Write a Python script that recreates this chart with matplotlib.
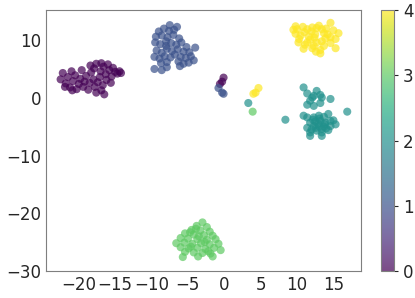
import matplotlib
matplotlib.use("Agg")
import matplotlib.pyplot as plt
import numpy as np

# ── 各类别的二维嵌入坐标 ─────────────────────────────────
c0_x = [-22.5, -22.2, -21.8, -21.5, -21.2, -21.0, -20.8, -20.5, -20.3, -20.0, -19.8, -19.6,
        -21.9, -20.9, -19.4, -19.2, -19.0, -18.7, -18.5, -18.3, -18.0, -17.8, -17.6, -17.4,
        -17.1, -16.9, -16.7, -16.5, -17.9, -18.4, -17.0, -16.6, -16.3, -16.0, -15.8, -15.5,
        -15.3, -15.0, -14.7, -14.4, -14.2, -16.2, -15.6, -16.9, -17.6,
        -0.1, -0.3, -0.6]
c0_y = [3.2, 4.3, 2.5, 3.6, 1.8, 4.6, 2.9, 3.9, 1.5, 2.4, 3.3, 4.8,
        1.9, 1.3, 1.9, 2.8, 3.8, 1.4, 2.6, 4.4, 3.2, 1.9, 0.9, 2.7,
        3.6, 1.3, 2.2, 0.6, 5.1, 5.6, 4.6, 5.4, 4.1, 5.8, 4.8, 3.7,
        5.2, 4.5, 4.2, 4.6, 4.3, 3.1, 2.6, 6.0, 5.9,
        3.5, 2.8, 2.4]

c1_x = [-9.0, -8.3, -7.6, -6.5, -9.4, -8.6, -7.8, -7.0, -6.2, -9.5, -8.8, -8.0, -7.3, -6.6,
        -5.9, -5.2, -4.0, -9.3, -8.6, -7.9, -7.2, -6.4, -5.6, -4.8, -9.6, -8.9, -8.2, -7.4,
        -6.8, -6.0, -5.3, -4.6, -4.2, -8.7, -7.9, -6.3, -5.6, -4.9, -9.6, -8.6, -7.9, -6.1,
        -8.0, -7.5, -6.9,
        -0.8, -0.3, -0.1]
c1_y = [11.5, 12.0, 11.6, 12.3, 10.6, 10.8, 10.5, 10.9, 10.3, 9.6, 9.3, 9.8, 9.5, 9.2,
        9.6, 8.8, 8.7, 8.2, 7.8, 8.5, 8.1, 8.4, 8.0, 7.9, 7.1, 6.8, 7.2, 7.0,
        7.5, 7.1, 6.9, 7.2, 6.5, 6.0, 6.2, 6.3, 5.9, 6.1, 5.0, 4.8, 5.3, 5.5,
        9.0, 12.6, 11.8,
        1.7, 0.9, 0.7]

c2_x = [10.9, 11.4, 12.7, 12.3, 13.2, 13.4, 12.1, 11.8, 11.4, 12.3, 13.2, 14.6,
        10.9, 11.4, 12.3, 13.0, 13.7, 14.3, 11.8, 12.5, 13.2, 13.9, 14.6, 15.0,
        11.4, 12.3, 13.0, 13.7, 14.6, 15.3, 11.8, 12.7, 13.4, 14.3, 11.8, 13.4,
        8.4, 16.9, 12.9, 13.4, 12.6, 13.8, 12.2, 14.0, 13.1, 12.0,
        3.3]
c2_y = [1.8, 0.75, 1.2, 0.35, 0.5, 0.05, 0.05, -0.5, -1.2, -1.4, -0.9, -0.2,
        -3.1, -3.4, -3.4, -3.1, -3.3, -2.8, -4.3, -4.1, -4.0, -4.3, -4.0, -3.9,
        -5.2, -4.9, -4.9, -5.0, -4.9, -4.6, -6.0, -5.7, -6.0, -5.6, -6.6, -6.6,
        -3.8, -2.4, -4.5, -5.4, -5.2, -4.6, -3.8, -5.3, -3.6, -5.5,
        -0.9]

c3_x = [-3.0, -3.8, -2.4, -4.5, -3.3, -2.0, -5.4, -4.2, -2.8, -1.6, -6.0, -5.0, -3.7, -2.4,
        -1.2, -6.6, -5.5, -4.4, -3.2, -2.0, -0.8, -6.0, -4.9, -3.7, -2.6, -1.4, -0.5, -5.4,
        -4.2, -3.0, -1.9, -5.7, -3.6, -1.6, -4.7, -3.5, -2.7, -4.6, -2.2, -3.9,
        3.9]
c3_y = [-21.6, -22.2, -22.4, -22.9, -23.0, -23.2, -23.5, -23.7, -23.8, -23.9, -24.3, -24.4,
        -24.5, -24.6, -24.5, -25.2, -25.1, -25.3, -25.2, -25.4, -25.3, -25.9, -26.1, -26.0,
        -26.2, -26.0, -26.4, -26.7, -26.8, -26.9, -27.0, -27.6, -27.5, -27.5, -23.3, -24.0,
        -25.0, -25.8, -26.6, -22.7,
        -2.4]

c4_x = [14.6, 9.5, 10.0, 11.4, 12.1, 12.7, 13.4, 15.0, 15.7, 9.8, 10.5, 11.6, 12.5, 13.7,
        14.6, 15.3, 10.2, 11.4, 12.7, 13.4, 13.7, 10.9, 12.1, 13.2, 15.3, 13.2,
        10.8, 11.0, 12.0, 13.0, 14.0, 14.2, 10.3, 11.8, 12.4, 13.9, 11.1, 12.3, 14.6, 9.8, 12.6,
        4.7, 4.3, 4.0]
c4_y = [13.0, 11.8, 11.9, 11.9, 12.2, 12.1, 11.9, 11.7, 11.2, 11.1, 10.8, 10.6, 11.0, 11.2,
        10.5, 10.2, 9.6, 9.6, 9.6, 9.8, 9.0, 8.5, 8.6, 8.3, 8.6, 7.7,
        12.3, 11.4, 11.5, 12.5, 12.0, 11.0, 10.2, 10.1, 10.4, 10.3, 9.2, 9.0, 9.5, 12.4, 8.0,
        1.7, 0.9, 0.7]

xs = [c0_x, c1_x, c2_x, c3_x, c4_x]
ys = [c0_y, c1_y, c2_y, c3_y, c4_y]
x = np.concatenate(xs)
y = np.concatenate(ys)
labels = np.concatenate([[k] * len(v) for k, v in enumerate(xs)])

plt.rcParams["font.size"] = 12
fig = plt.figure(figsize=(4.15, 2.98), dpi=100)
ax = fig.add_axes([0.111, 0.091, 0.759, 0.875])
cax = fig.add_axes([0.918, 0.091, 0.031, 0.875])

sc = ax.scatter(x, y, c=labels, cmap="viridis", vmin=0, vmax=4,
                s=34, alpha=0.7, linewidths=0)
ax.set_xlim(-24.5, 18.8)
ax.set_ylim(-30, 15.2)
ax.set_xticks([-20, -15, -10, -5, 0, 5, 10, 15])
ax.set_yticks([-30, -20, -10, 0, 10])
ax.tick_params(length=0, colors="#262626")
for sp in ax.spines.values():
    sp.set_color("#7f7f7f")

cb = fig.colorbar(sc, cax=cax, ticks=[0, 1, 2, 3, 4])
cb.outline.set_edgecolor("#7f7f7f")
cb.ax.tick_params(length=3, colors="#262626")

plt.savefig("out.png", dpi=100)
